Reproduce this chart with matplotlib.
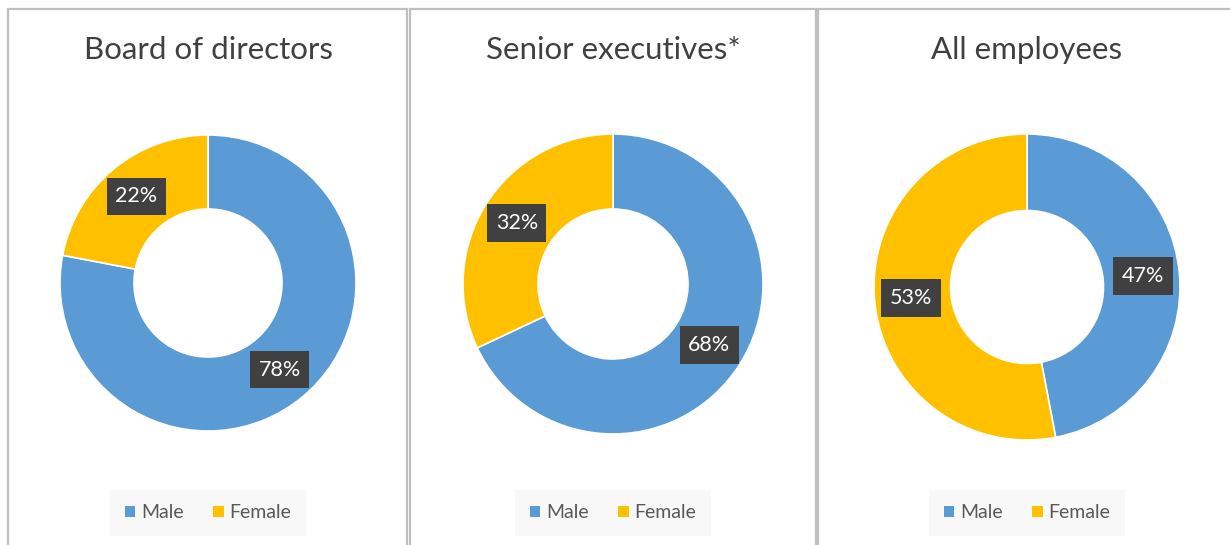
import numpy as np
import matplotlib.pyplot as plt
from matplotlib.patches import Rectangle, Patch

W, H = 1230, 545

titles = ['Board of directors', 'Senior executives*', 'All employees']
male = [78, 68, 47]
female = [22, 32, 53]
legend_labels = ['Male', 'Female']
colors = ['#5B9BD5', '#FFC000']

# pixel layout of each panel: donut centre, radius, panel box
centers = [(208, 283), (613, 284), (1027, 287)]
radii = [148, 150, 153]
panels = [(8, 407), (410, 816), (818, 1240)]
title_y = 50
legend_y = 513

plt.rcParams['font.family'] = ['Lato', 'DejaVu Sans']

fig = plt.figure(figsize=(W / 100, H / 100), dpi=100)
fig.patch.set_facecolor('white')

for (x0, x1) in panels:
    fig.patches.append(Rectangle((x0 / W, -0.1), (x1 - x0) / W, (H - 9) / H + 0.1,
                                 transform=fig.transFigure, facecolor='none',
                                 edgecolor='#BFBFBF', lw=1.6))

for i in range(3):
    cx, cy = centers[i]
    r = radii[i]
    ax = fig.add_axes([(cx - r) / W, (H - cy - r) / H, 2 * r / W, 2 * r / H])
    vals = [male[i], female[i]]
    wedges, _ = ax.pie(vals, colors=colors, startangle=90, counterclock=False,
                       radius=1.0, wedgeprops=dict(width=0.5, edgecolor='white', lw=1.2))
    start = 90
    for v, w in zip(vals, wedges):
        mid = np.deg2rad(start - v / 100 * 360 / 2)
        start -= v / 100 * 360
        ax.text(0.76 * np.cos(mid), 0.76 * np.sin(mid), f'{v}%', ha='center', va='center',
                color='white', fontsize=15.5,
                bbox=dict(boxstyle='square,pad=0.4', facecolor='#404040', edgecolor='none'))
    ax.set_xlim(-1, 1)
    ax.set_ylim(-1, 1)
    ax.set_aspect('equal')
    ax.axis('off')

    fig.text(cx / W, 1 - title_y / H, titles[i], ha='center', va='center',
             fontsize=22.5, color='#404040')

    handles = [Patch(facecolor=c, edgecolor='none') for c in colors]
    leg = fig.legend(handles, legend_labels, loc='center', ncol=2,
                     bbox_to_anchor=(cx / W, 1 - legend_y / H), fontsize=14,
                     frameon=True, fancybox=False, handlelength=0.55, handleheight=0.55,
                     handletextpad=0.3, columnspacing=1.5, borderpad=0.75)
    leg.get_frame().set_facecolor('#F7F7F7')
    leg.get_frame().set_edgecolor('none')
    for t in leg.get_texts():
        t.set_color('#595959')

fig.savefig('out.png', dpi=100)
